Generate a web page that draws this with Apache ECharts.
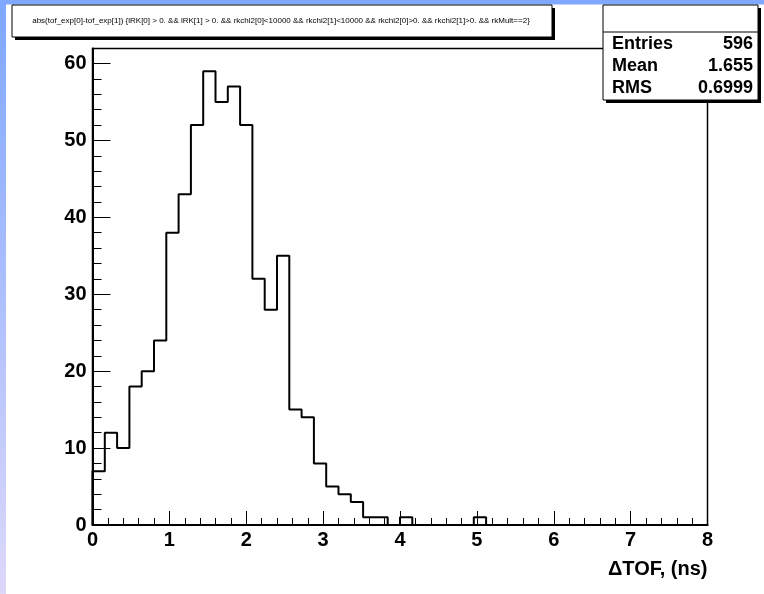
<!DOCTYPE html>
<html>
<head>
<meta charset="utf-8">
<script src="https://cdn.jsdelivr.net/npm/echarts@6/dist/echarts.min.js"></script>
<style>
html,body{margin:0;padding:0;background:#fff;}
#chart{width:764px;height:594px;}
</style>
</head>
<body>
<div id="chart"></div>
<script>
// ---- data ----
const xRange = [0, 8];
const nBins = 50;
const counts = [7, 12, 10, 18, 20, 24, 38, 43, 52, 59,
                55, 57, 52, 32, 28, 35, 15, 14, 8, 5,
                4, 3, 1, 1, 0, 1, 0, 0, 0, 0,
                0, 1, 0, 0, 0, 0, 0, 0, 0, 0,
                0, 0, 0, 0, 0, 0, 0, 0, 0, 0];
const xTicks = [0, 1, 2, 3, 4, 5, 6, 7, 8];
const yTicks = [0, 10, 20, 30, 40, 50, 60];
const statNames = ['Entries', 'Mean', 'RMS'];
const statValues = ['596', '1.655', '0.6999'];
const titleText = 'abs(tof_exp[0]-tof_exp[1]) {lRK[0] > 0. && lRK[1] > 0. && rkchi2[0]<10000 && rkchi2[1]<10000 && rkchi2[0]>0. && rkchi2[1]>0. && rkMult==2}';
const xTitle = '\u0394TOF, (ns)';

// ---- build step data ----
const bw = (xRange[1] - xRange[0]) / nBins;
const stepData = [[xRange[0], 0]];
counts.forEach((c, i) => stepData.push([xRange[0] + i * bw, c]));
stepData.push([xRange[1], 0]);
const yMax = Math.max(...counts) * 1.05;

const chart = echarts.init(document.getElementById('chart'));
const FONT = '"Liberation Sans", Arial, Helvetica, sans-serif';

const graphics = [
  // background strips
  { type: 'rect', shape: { x: 0, y: 0, width: 6, height: 594 }, silent: true, z: -10,
    style: { fill: new echarts.graphic.LinearGradient(0, 0, 0, 1, [
      { offset: 0, color: '#7ea7ff' }, { offset: 1, color: '#ddd8fa' }]) } },
  { type: 'rect', shape: { x: 0, y: 0, width: 764, height: 4.5 }, silent: true, z: -10,
    style: { fill: '#80a8ff' } },
  // title box shadow + box
  { type: 'rect', shape: { x: 15, y: 8, width: 540, height: 32 }, z: 10, style: { fill: '#000' } },
  { type: 'rect', shape: { x: 12, y: 5, width: 540, height: 32 }, z: 11,
    style: { fill: '#fff', stroke: '#000', lineWidth: 1 } },
  { type: 'text', x: 281, y: 21, z: 12,
    style: { text: titleText, font: '8px ' + FONT, fill: '#000', align: 'center', verticalAlign: 'middle' } },
  // stats box
  { type: 'rect', shape: { x: 606, y: 8, width: 155, height: 95 }, z: 10, style: { fill: '#000' } },
  { type: 'rect', shape: { x: 603, y: 5, width: 155, height: 95 }, z: 11,
    style: { fill: '#fff', stroke: '#000', lineWidth: 1 } },
  { type: 'line', shape: { x1: 603, y1: 32, x2: 758, y2: 32 }, z: 12, style: { stroke: '#000', lineWidth: 1 } }
];
statNames.forEach((n, i) => {
  const y = 44 + i * 22;
  graphics.push({ type: 'text', x: 612, y: y, z: 12,
    style: { text: n, font: 'bold 18px ' + FONT, fill: '#000', align: 'left', verticalAlign: 'middle' } });
  graphics.push({ type: 'text', x: 753, y: y, z: 12,
    style: { text: statValues[i], font: 'bold 18px ' + FONT, fill: '#000', align: 'right', verticalAlign: 'middle' } });
});

chart.setOption({
  animation: false,
  backgroundColor: '#fff',
  grid: { left: 92.5, right: 56.5, top: 48.5, bottom: 69, show: true, borderColor: '#000', borderWidth: 1.5, backgroundColor: 'transparent' },
  xAxis: {
    type: 'value', min: xRange[0], max: xRange[1], interval: 1,
    name: xTitle, nameLocation: 'end', nameGap: 0,
    nameTextStyle: { fontFamily: FONT, fontWeight: 'bold', fontSize: 20, color: '#000', align: 'right', verticalAlign: 'top', padding: [34, 0, 0, 0] },
    axisLine: { lineStyle: { color: '#000', width: 2 } },
    axisTick: { inside: true, length: 14, lineStyle: { color: '#000', width: 1 } },
    minorTick: { show: true, splitNumber: 5, length: 7, lineStyle: { color: '#000', width: 1 } },
    splitLine: { show: false },
    axisLabel: { fontFamily: FONT, fontWeight: 'bold', fontSize: 20, color: '#000', margin: 5,
      formatter: v => xTicks.includes(v) ? String(v) : '' }
  },
  yAxis: {
    type: 'value', min: 0, max: yMax, interval: 10,
    axisLine: { show: true, lineStyle: { color: '#000', width: 2 } },
    axisTick: { inside: true, length: 18, lineStyle: { color: '#000', width: 1 } },
    minorTick: { show: true, splitNumber: 5, length: 9, lineStyle: { color: '#000', width: 1 } },
    splitLine: { show: false },
    axisLabel: { fontFamily: FONT, fontWeight: 'bold', fontSize: 20, color: '#000', margin: 6, showMaxLabel: false,
      formatter: v => yTicks.includes(v) ? String(v) : '' }
  },
  series: [{
    type: 'line', data: stepData, step: 'end', symbol: 'none',
    lineStyle: { color: '#000', width: 2 }, z: 5
  }],
  graphic: graphics
});
</script>
</body>
</html>
